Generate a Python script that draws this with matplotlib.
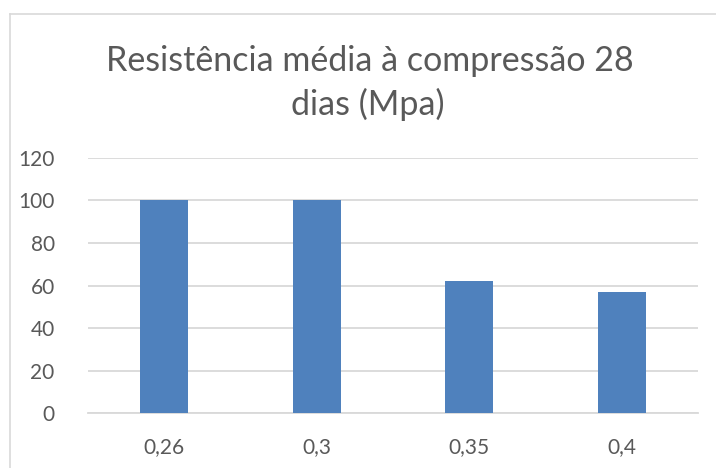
import matplotlib
matplotlib.use("Agg")
import matplotlib.pyplot as plt
from matplotlib.lines import Line2D

categories = ["0,26", "0,3", "0,35", "0,4"]
values = [100, 100, 62, 57]
yticks = [0, 20, 40, 60, 80, 100, 120]
title_lines = ["Resistência média à compressão 28", "dias (Mpa)"]

W, H = 716, 468
plt.rcParams['font.family'] = ['Lato', 'DejaVu Sans']
fig = plt.figure(figsize=(W / 100, H / 100), dpi=100)
fig.patch.set_facecolor('white')

# chart border (left and top visible)
fig.add_artist(Line2D([10 / W, 10 / W], [0, 1 - 14 / H], transform=fig.transFigure, color='#D9D9D9', lw=1.2))
fig.add_artist(Line2D([10 / W, 1], [1 - 14 / H, 1 - 14 / H], transform=fig.transFigure, color='#D9D9D9', lw=1.2))

left, right = 88, 698
top, bottom = 157.7, 413.3
ax = fig.add_axes([left / W, (H - bottom) / H, (right - left) / W, (bottom - top) / H])
x = list(range(len(categories)))
ax.bar(x, values, width=0.315, color='#4F81BD', zorder=3)
ax.set_xlim(-0.5, len(categories) - 0.5)
ax.set_ylim(0, 120)
ax.set_yticks(yticks)
ax.set_yticklabels([str(v) for v in yticks])
ax.set_xticks(x)
ax.set_xticklabels(categories)
ax.yaxis.grid(True, color='#D9D9D9', lw=1.3, zorder=0)
ax.set_axisbelow(True)
for s in ['top', 'right', 'left']:
    ax.spines[s].set_visible(False)
ax.spines['bottom'].set_color('#D9D9D9')
ax.spines['bottom'].set_linewidth(1.3)
ax.tick_params(axis='both', length=0, labelsize=15, colors='#595959')
ax.tick_params(axis='y', pad=24)
ax.tick_params(axis='x', pad=17)

fig.text(370 / W, 1 - 71 / H, title_lines[0], ha='center', va='baseline', fontsize=24.5, color='#595959')
fig.text(368 / W, 1 - 115 / H, title_lines[1], ha='center', va='baseline', fontsize=24.5, color='#595959')

fig.savefig("out.png", dpi=100)
